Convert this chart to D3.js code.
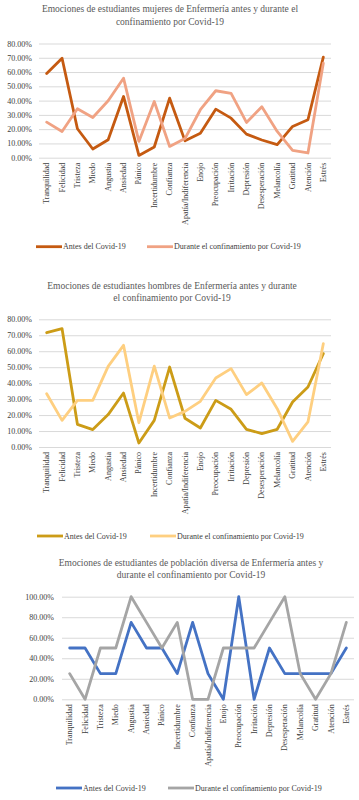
<!DOCTYPE html>
<html><head><meta charset="utf-8">
<script src="https://cdn.jsdelivr.net/npm/d3@7"></script>
<style>
html,body{margin:0;padding:0;background:#fff;}
svg{display:block;}
svg text{font-family:"Liberation Serif","DejaVu Serif",serif !important;font-weight:normal;}
</style></head>
<body><svg id="c" width="359" height="800"></svg>
<script>
const categories = ["Tranquilidad","Felicidad","Tristeza","Miedo","Angustia","Ansiedad","Pánico","Incertidumbre","Confianza","Apatía/Indiferencia","Enojo","Preocupación","Irritación","Depresión","Desesperación","Melancolía","Gratitud","Atención","Estrés"];
const mujeresAntes   = [0.59,0.697,0.203,0.061,0.126,0.429,0.016,0.075,0.417,0.118,0.172,0.34,0.277,0.165,0.124,0.091,0.219,0.266,0.704];
const mujeresDurante = [0.249,0.184,0.343,0.282,0.399,0.557,0.114,0.394,0.079,0.134,0.336,0.469,0.45,0.247,0.357,0.184,0.051,0.033,0.662];
const hombresAntes   = [0.716,0.741,0.142,0.109,0.203,0.338,0.025,0.167,0.501,0.18,0.119,0.292,0.236,0.111,0.084,0.111,0.282,0.376,0.585];
const hombresDurante = [0.334,0.167,0.292,0.292,0.505,0.637,0.152,0.507,0.182,0.223,0.286,0.432,0.491,0.328,0.401,0.24,0.035,0.157,0.647];
const diversaAntes   = [0.5,0.5,0.25,0.25,0.75,0.5,0.5,0.25,0.75,0.25,0,1,0,0.5,0.25,0.25,0.25,0.25,0.5];
const diversaDurante = [0.25,0,0.5,0.5,1,0.75,0.5,0.75,0,0,0.5,0.5,0.5,0.75,1,0.25,0,0.25,0.75];
const ticksMH = [0,0.1,0.2,0.3,0.4,0.5,0.6,0.7,0.8];
const ticksDiversa = [0,0.2,0.4,0.6,0.8,1.0];
const seriesNames = ["Antes del Covid-19","Durante el confinamiento por Covid-19"];

const svg = d3.select("#c");
const textColor = "#404040";

function chart(cfg){
  const g = svg.append("g");
  cfg.title.forEach((t,i)=>{
    g.append("text").attr("x",cfg.titleX).attr("y",cfg.titleY + i*cfg.titleGap)
     .attr("text-anchor","middle").attr("font-size",cfg.titleSize).attr("fill","#595959").text(t);
  });
  const x = d3.scaleBand().domain(categories).range([cfg.left,cfg.right]);
  const y = d3.scaleLinear().domain([0,cfg.max]).range([cfg.bottom,cfg.top]);
  const ya = g.append("g").attr("transform",`translate(${cfg.left},0)`)
    .call(d3.axisLeft(y).tickValues(cfg.ticks).tickFormat(d3.format(".2%")).tickSize(-(cfg.right-cfg.left)).tickPadding(cfg.tickPad));
  ya.select(".domain").remove();
  ya.selectAll(".tick line").attr("stroke","#d9d9d9").attr("stroke-width",1);
  ya.selectAll(".tick text").attr("font-size",8).attr("fill",textColor);
  const xa = g.append("g").attr("transform",`translate(0,${cfg.bottom})`)
    .call(d3.axisBottom(x).tickSize(0).tickPadding(0));
  xa.select(".domain").remove();
  xa.selectAll(".tick text").attr("font-size",8).attr("fill",textColor)
    .attr("transform","rotate(-90)").attr("text-anchor","end").attr("x",-5).attr("y",0).attr("dy","0.32em");
  const line = d3.line().x((d,i)=>x(categories[i])+x.bandwidth()/2).y(d=>y(d));
  [cfg.a,cfg.b].forEach((vals,k)=>{
    g.append("path").datum(vals).attr("d",line).attr("fill","none")
     .attr("stroke",cfg.colors[k]).attr("stroke-width",2.8).attr("stroke-linejoin","round").attr("stroke-linecap","round");
  });
  cfg.legendX.forEach((lx,k)=>{
    g.append("line").attr("x1",lx).attr("x2",lx+26).attr("y1",cfg.legendY).attr("y2",cfg.legendY)
      .attr("stroke",cfg.colors[k]).attr("stroke-width",2.8);
    g.append("text").attr("x",lx+27).attr("y",cfg.legendY).attr("dy","0.32em")
      .attr("font-size",8).attr("fill",textColor).text(seriesNames[k]);
  });
}

chart({title:["Emociones de estudiantes mujeres de Enfermería antes y durante el","confinamiento por Covid-19"],
  titleX:170,titleY:11.5,titleGap:13.5,titleSize:9.5,
  left:39,right:331,top:43.5,bottom:157.7,max:0.8,ticks:ticksMH,tickPad:7,
  a:mujeresAntes,b:mujeresDurante,colors:["#c55a11","#f0a283"],
  legendX:[36,147],legendY:246.7});

chart({title:["Emociones de estudiantes hombres de Enfermería antes y durante","el confinamiento por Covid-19"],
  titleX:172,titleY:288.5,titleGap:12.3,titleSize:9.5,
  left:39,right:331,top:319.3,bottom:447,max:0.8,ticks:ticksMH,tickPad:7,
  a:hombresAntes,b:hombresDurante,colors:["#cc9c17","#fecf80"],
  legendX:[37,150],legendY:536});

chart({title:["Emociones de estudiantes de población diversa de Enfermería antes y","durante el confinamiento por Covid-19"],
  titleX:191,titleY:565.5,titleGap:12,titleSize:9.5,
  left:62,right:354,top:596.7,bottom:699.3,max:1.0,ticks:ticksDiversa,tickPad:8,
  a:diversaAntes,b:diversaDurante,colors:["#4472c4","#a5a5a5"],
  legendX:[56,168],legendY:788});
</script></body></html>
